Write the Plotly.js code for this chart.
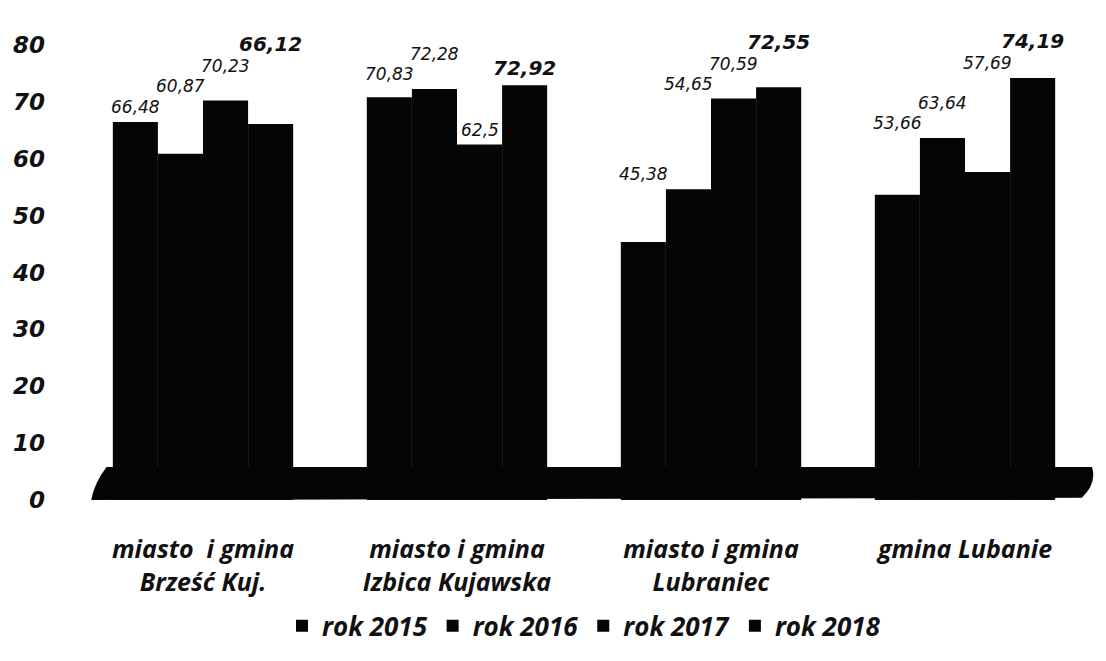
<!DOCTYPE html>
<html>
<head>
<meta charset="utf-8">
<script src="https://cdn.plot.ly/plotly-3.0.1.min.js"></script>
<style>html,body{margin:0;padding:0;background:#fff;}#chart{width:1106px;height:661px;}</style>
</head>
<body>
<div id="chart"></div>
<script>
const categories = ['miasto  i gmina<br>Brześć Kuj.', 'miasto i gmina<br>Izbica Kujawska', 'miasto i gmina<br>Lubraniec', 'gmina Lubanie'];
const seriesNames = ['rok 2015', 'rok 2016', 'rok 2017', 'rok 2018'];
const values2015 = [66.48, 70.83, 45.38, 53.66];
const values2016 = [60.87, 72.28, 54.65, 63.64];
const values2017 = [70.23, 62.5, 70.59, 57.69];
const values2018 = [66.12, 72.92, 72.55, 74.19];
const yTicks = [0, 10, 20, 30, 40, 50, 60, 70, 80];

const allValues = [values2015, values2016, values2017, values2018];
const fmt = v => String(v).replace('.', ',');

// layout constants
const W = 1106, H = 661;
const M = {l: 76, r: 14, t: 45, b: 161};
const BARGAP = 0.29;
const YMAX = 80;
const plotW = W - M.l - M.r, plotH = H - M.t - M.b;
const ppu = plotH / YMAX;
const nS = allValues.length;
const barW = (plotW / categories.length) * (1 - BARGAP) / nS;

const traces = allValues.map((vals, i) => ({
  type: 'bar',
  name: seriesNames[i],
  x: categories,
  y: vals,
  textposition: 'none',
  marker: {color: '#050505', line: {width: 0}},
  hoverinfo: 'x+y'
}));

// estimated label widths (DejaVu Sans metrics) to keep labels from overlapping bars / each other
function labelWidth(txt, size, bold) {
  let w = 0;
  for (const ch of txt) w += (ch === ',' ? (bold ? 0.38 : 0.318) : (bold ? 0.696 : 0.636));
  return w * size + 2;
}

const annotations = [];
categories.forEach((cat, c) => {
  let prev = null;
  allValues.forEach((vals, i) => {
    const last = i === nS - 1;
    const size = last ? 20 : 17;
    const h = last ? 24 : 20;
    const txt = fmt(vals[c]);
    const w = labelWidth(txt, size, last);
    const neigh = [vals[c]];
    if ((w - barW) / 2 > 0) {
      if (i > 0) neigh.push(allValues[i - 1][c]);
      if (i < nS - 1) neigh.push(allValues[i + 1][c]);
    }
    let base = Math.max(...neigh) * ppu + 3;
    if (prev && (w + prev.w) / 2 > barW && base < prev.top && base + h > prev.base) base = prev.top;
    prev = {base: base, top: base + h, w: w};
    annotations.push({
      x: cat, y: base / ppu, xref: 'x', yref: 'y',
      xshift: (i - (nS - 1) / 2) * barW,
      yanchor: 'bottom', xanchor: 'center',
      showarrow: false,
      text: txt,
      font: {
        family: 'DejaVu Sans, Verdana, sans-serif',
        size: size,
        style: 'italic',
        weight: last ? 'bold' : 'normal',
        color: '#111'
      }
    });
  });
});

const layout = {
  width: W,
  height: H,
  margin: M,
  paper_bgcolor: '#fff',
  plot_bgcolor: '#fff',
  barmode: 'group',
  bargap: BARGAP,
  bargroupgap: 0,
  showlegend: true,
  legend: {
    orientation: 'h',
    x: 0.5, xanchor: 'center',
    y: -0.225, yanchor: 'top',
    font: {family: 'Open Sans, sans-serif', size: 26, style: 'italic', weight: 'bold', color: '#111'},
    itemwidth: 30,
    traceorder: 'normal'
  },
  xaxis: {
    showgrid: false, zeroline: false, showline: false,
    ticks: '',
    ticklabelstandoff: 32,
    tickfont: {family: 'Open Sans, sans-serif', size: 25, style: 'italic', weight: 'bold', color: '#111'}
  },
  yaxis: {
    range: [0, YMAX],
    tickvals: yTicks,
    showgrid: false, zeroline: false, showline: false,
    ticks: '',
    ticklabelstandoff: 30,
    tickfont: {family: 'DejaVu Sans, Verdana, sans-serif', size: 23, style: 'italic', weight: 'bold', color: '#111'}
  },
  annotations: annotations,
  shapes: [{
    type: 'path',
    xref: 'paper', yref: 'y',
    path: 'M 0.015 0 L 0.99 0.4 Q 1.005 3 1.0 5.8 L 0.03 5.8 Q 0.018 3 0.015 0 Z',
    fillcolor: '#050505',
    line: {width: 0},
    layer: 'below'
  }]
};

Plotly.newPlot('chart', traces, layout, {displayModeBar: false, staticPlot: true});
</script>
</body>
</html>
